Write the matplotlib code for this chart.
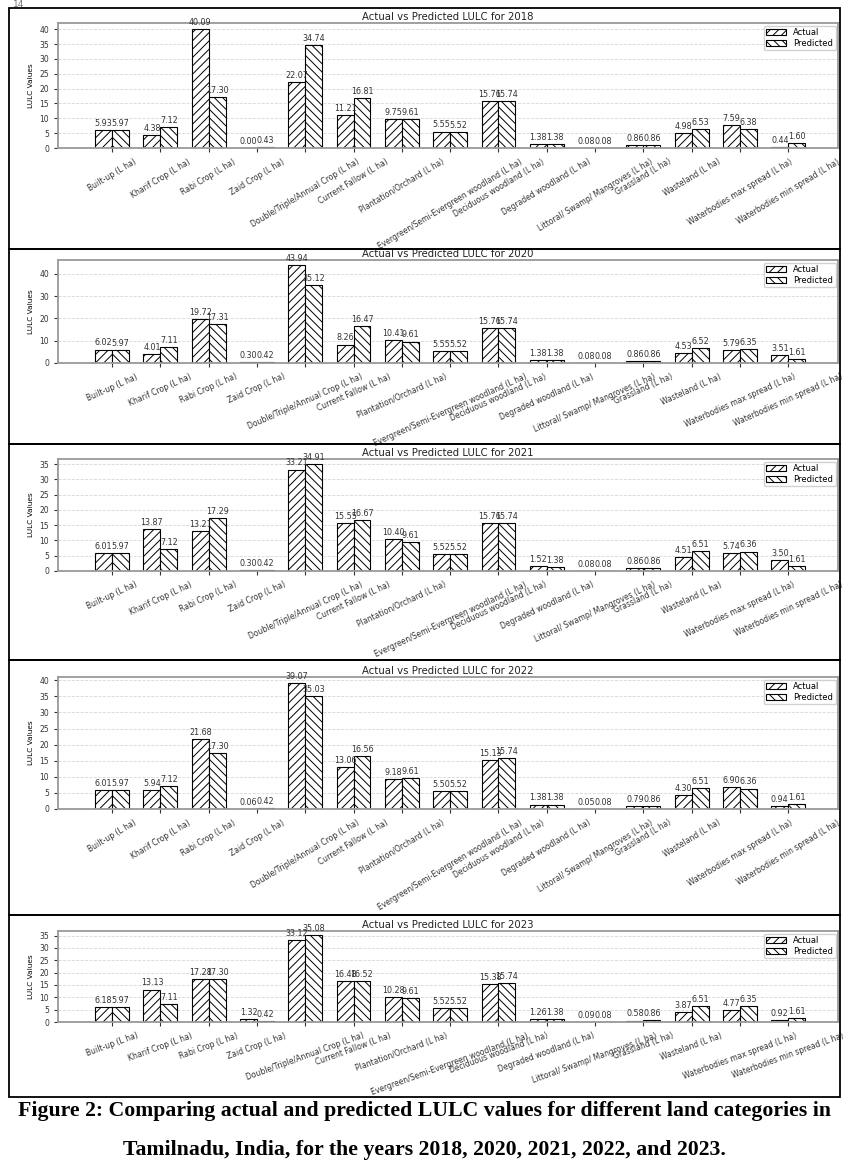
import numpy as np
import matplotlib.pyplot as plt
from matplotlib.patches import Rectangle
from matplotlib.ticker import MultipleLocator

categories = ["Built-up (L ha)", "Kharif Crop (L ha)", "Rabi Crop (L ha)", "Zaid Crop (L ha)",
              "Double/Triple/Annual Crop (L ha)", "Current Fallow (L ha)", "Plantation/Orchard (L ha)",
              "Evergreen/Semi-Evergreen woodland (L ha)", "Deciduous woodland (L ha)",
              "Degraded woodland (L ha)", "Littoral/ Swamp/ Mangroves (L ha)", "Grassland (L ha)",
              "Wasteland (L ha)", "Waterbodies max spread (L ha)", "Waterbodies min spread (L ha)"]

years = ["2018", "2020", "2021", "2022", "2023"]

actual_2018 = [5.93, 4.38, 40.09, 0.00, 22.07, 11.21, 9.75, 5.55, 15.76, 1.38, 0.08, 0.86, 4.98, 7.59, 0.44]
pred_2018 = [5.97, 7.12, 17.30, 0.43, 34.74, 16.81, 9.61, 5.52, 15.74, 1.38, 0.08, 0.86, 6.53, 6.38, 1.60]

actual_2020 = [6.02, 4.01, 19.72, 0.30, 43.94, 8.26, 10.41, 5.55, 15.76, 1.38, 0.08, 0.86, 4.53, 5.79, 3.51]
pred_2020 = [5.97, 7.11, 17.31, 0.42, 35.12, 16.47, 9.61, 5.52, 15.74, 1.38, 0.08, 0.86, 6.52, 6.35, 1.61]

actual_2021 = [6.01, 13.87, 13.21, 0.30, 33.21, 15.55, 10.40, 5.52, 15.76, 1.52, 0.08, 0.86, 4.51, 5.74, 3.50]
pred_2021 = [5.97, 7.12, 17.29, 0.42, 34.91, 16.67, 9.61, 5.52, 15.74, 1.38, 0.08, 0.86, 6.51, 6.36, 1.61]

actual_2022 = [6.01, 5.94, 21.68, 0.06, 39.07, 13.06, 9.18, 5.50, 15.13, 1.38, 0.05, 0.79, 4.30, 6.90, 0.94]
pred_2022 = [5.97, 7.12, 17.30, 0.42, 35.03, 16.56, 9.61, 5.52, 15.74, 1.38, 0.08, 0.86, 6.51, 6.36, 1.61]

actual_2023 = [6.18, 13.13, 17.28, 1.32, 33.12, 16.48, 10.28, 5.52, 15.38, 1.26, 0.09, 0.58, 3.87, 4.77, 0.92]
pred_2023 = [5.97, 7.11, 17.30, 0.42, 35.08, 16.52, 9.61, 5.52, 15.74, 1.38, 0.08, 0.86, 6.51, 6.35, 1.61]

actual_all = [actual_2018, actual_2020, actual_2021, actual_2022, actual_2023]
pred_all = [pred_2018, pred_2020, pred_2021, pred_2022, pred_2023]

caption1 = "Figure 2: Comparing actual and predicted LULC values for different land categories in"
caption2 = "Tamilnadu, India, for the years 2018, 2020, 2021, 2022, and 2023."

W, H = 849, 1172
plt.rcParams['hatch.linewidth'] = 0.7

fig = plt.figure(figsize=(W / 100, H / 100), dpi=100)

# panel layout in pixels: (box top, box bottom, axes top, axes bottom, label rotation, y step)
panels = [(8, 249, 23, 148, 31, 5),
          (249, 444, 260, 363, 24, 10),
          (444, 660, 459, 571, 25, 5),
          (660, 915, 677, 809, 31, 5),
          (915, 1097, 931, 1022, 20, 5)]

x = np.arange(len(categories))
w = 0.35
ax_left, ax_right = 58, 838

for k, yr in enumerate(years):
    btop, bbot, atop, abot, rot, ystep = panels[k]
    fig.patches.append(Rectangle((9 / W, 1 - bbot / H), (840 - 9) / W, (bbot - btop) / H,
                                 transform=fig.transFigure, fill=False, ec='black', lw=1.3))
    ax = fig.add_axes([ax_left / W, 1 - abot / H, (ax_right - ax_left) / W, (abot - atop) / H])
    b1 = ax.bar(x - w / 2, actual_all[k], w, color='white', edgecolor='black', hatch='////',
                linewidth=0.8, label='Actual')
    b2 = ax.bar(x + w / 2, pred_all[k], w, color='white', edgecolor='black', hatch='\\\\\\\\',
                linewidth=0.8, label='Predicted')
    ax.bar_label(b1, fmt='%.2f', fontsize=5.8, padding=1.5, color='#333333')
    ax.bar_label(b2, fmt='%.2f', fontsize=5.8, padding=1.5, color='#333333')
    ax.set_xlim(-1.12, 15.03)
    ax.yaxis.set_major_locator(MultipleLocator(ystep))
    ax.set_xticks(x)
    ax.set_xticklabels(categories, rotation=rot, fontsize=5.5, color='#333333')
    ax.tick_params(axis='y', labelsize=5.5, colors='#333333', length=3)
    ax.tick_params(axis='x', length=3, colors='#333333')
    ax.set_ylabel('LULC Values', fontsize=5.3, labelpad=4)
    ax.set_title(f'Actual vs Predicted LULC for {yr}', fontsize=7.3, pad=2.5, color='#222222')
    ax.grid(axis='y', linestyle='--', linewidth=0.6, alpha=0.5)
    ax.set_axisbelow(True)
    for s in ax.spines.values():
        s.set_color('#999999')
        s.set_linewidth(1.3)
    ax.legend(loc='upper right', fontsize=6, borderaxespad=0.3, handlelength=2.4,
              handleheight=0.8, labelspacing=0.2, framealpha=0.9, borderpad=0.3)

fig.text(13 / W, 1.0, "14", fontsize=6.5, color='#777777', va='top')

t1 = fig.text(0.5, 1 - 1111 / H, caption1, ha='center', va='center',
              family='Liberation Serif', weight='bold', fontsize=14)
t2 = fig.text(0.5, 1 - 1150 / H, caption2, ha='center', va='center',
              family='Liberation Serif', weight='bold', fontsize=14)
fig.canvas.draw()
bw = t1.get_window_extent().width
fs = 14 * 815 / bw
t1.set_fontsize(fs)
t2.set_fontsize(fs)

fig.savefig('out.png', dpi=100)
